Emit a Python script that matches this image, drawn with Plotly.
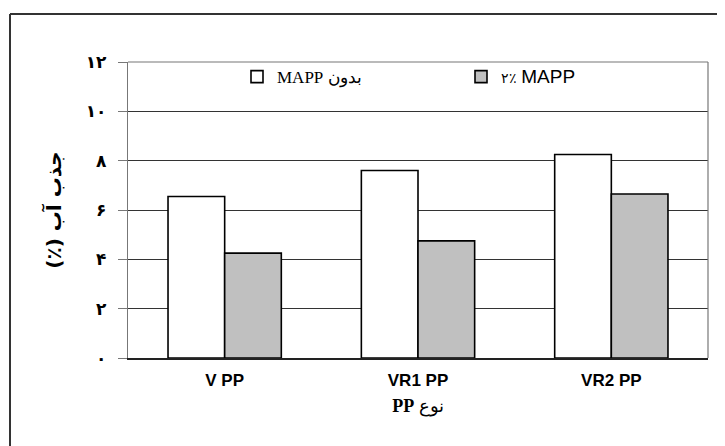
import plotly.graph_objects as go

categories = ["V PP", "VR1 PP", "VR2 PP"]
without_mapp = [6.55, 7.6, 8.25]
with_mapp = [4.25, 4.75, 6.65]
y_tickvals = [0, 2, 4, 6, 8, 10, 12]
y_ticktext = ["۰", "۲", "۴", "۶", "۸", "۱۰", "۱۲"]
name_without = "\u202bبدون MAPP\u202c"
name_with = "<span style='font-family:Liberation Serif;font-size:14px'>۲٪</span> <span style='font-family:Liberation Sans;font-size:19px'>MAPP</span>"

# page is offset by the 8px body margin, so figure is sized to fill the rest
OFF = 8
W, H = 725 - OFF, 446 - OFF
L, R, T, B = 128 - OFF, 17, 62 - OFF, 88
pw, ph = W - L - R, H - T - B

def px(x):
    return (x - OFF - L) / pw

def py(y):
    return (H - B - (y - OFF)) / ph

fig = go.Figure()
fig.add_trace(go.Bar(x=categories, y=without_mapp, name=name_without,
                     marker=dict(color="white", line=dict(color="black", width=1.6))))
fig.add_trace(go.Bar(x=categories, y=with_mapp, name=name_with,
                     marker=dict(color="#C0C0C0", line=dict(color="black", width=1.6))))

shapes = [
    dict(type="line", xref="paper", yref="paper", x0=0, x1=1, y0=1, y1=1, line=dict(color="#777", width=1.2)),
    dict(type="line", xref="paper", yref="paper", x0=1, x1=1, y0=0, y1=1, line=dict(color="#777", width=1.2)),
    dict(type="line", xref="paper", yref="paper", x0=px(10), x1=px(10), y0=py(14), y1=py(446), line=dict(color="#333", width=2)),
    dict(type="line", xref="paper", yref="paper", x0=px(10), x1=px(725), y0=py(14), y1=py(14), line=dict(color="#333", width=2)),
]

fig.update_layout(
    width=W, height=H,
    margin=dict(l=L, r=R, t=T, b=B),
    paper_bgcolor="white", plot_bgcolor="white",
    barmode="group", bargap=0.414, bargroupgap=0,
    shapes=shapes,
    showlegend=True,
    legend=dict(orientation="h", x=px(237), y=1.01, xanchor="left", yanchor="top",
                entrywidth=179, entrywidthmode="pixels", bgcolor="rgba(0,0,0,0)",
                font=dict(family="Liberation Serif", size=17, color="black"),
                traceorder="normal"),
    xaxis=dict(showline=True, linecolor="#222", linewidth=2, ticks="",
               ticklabelstandoff=6,
               tickfont=dict(family="Liberation Sans", size=17, color="black", weight="bold"),
               title=dict(text="\u202bنوع <b>PP</b>\u202c", standoff=10,
                          font=dict(family="Liberation Serif", size=18, color="black"))),
    yaxis=dict(range=[0, 12], tickvals=y_tickvals, ticktext=y_ticktext,
               showline=True, linecolor="#777", linewidth=1.2,
               ticks="outside", ticklen=9, tickcolor="#777", tickwidth=1.2,
               showgrid=True, gridcolor="#333", gridwidth=1,
               ticklabelstandoff=8,
               tickfont=dict(family="DejaVu Sans", size=17, color="black", weight="bold"),
               title=dict(text="\u202bجذب آب (٪)\u202c", standoff=18,
                          font=dict(family="DejaVu Sans", size=20, color="black", weight="bold"))),
)

fig.write_html("out.html")
